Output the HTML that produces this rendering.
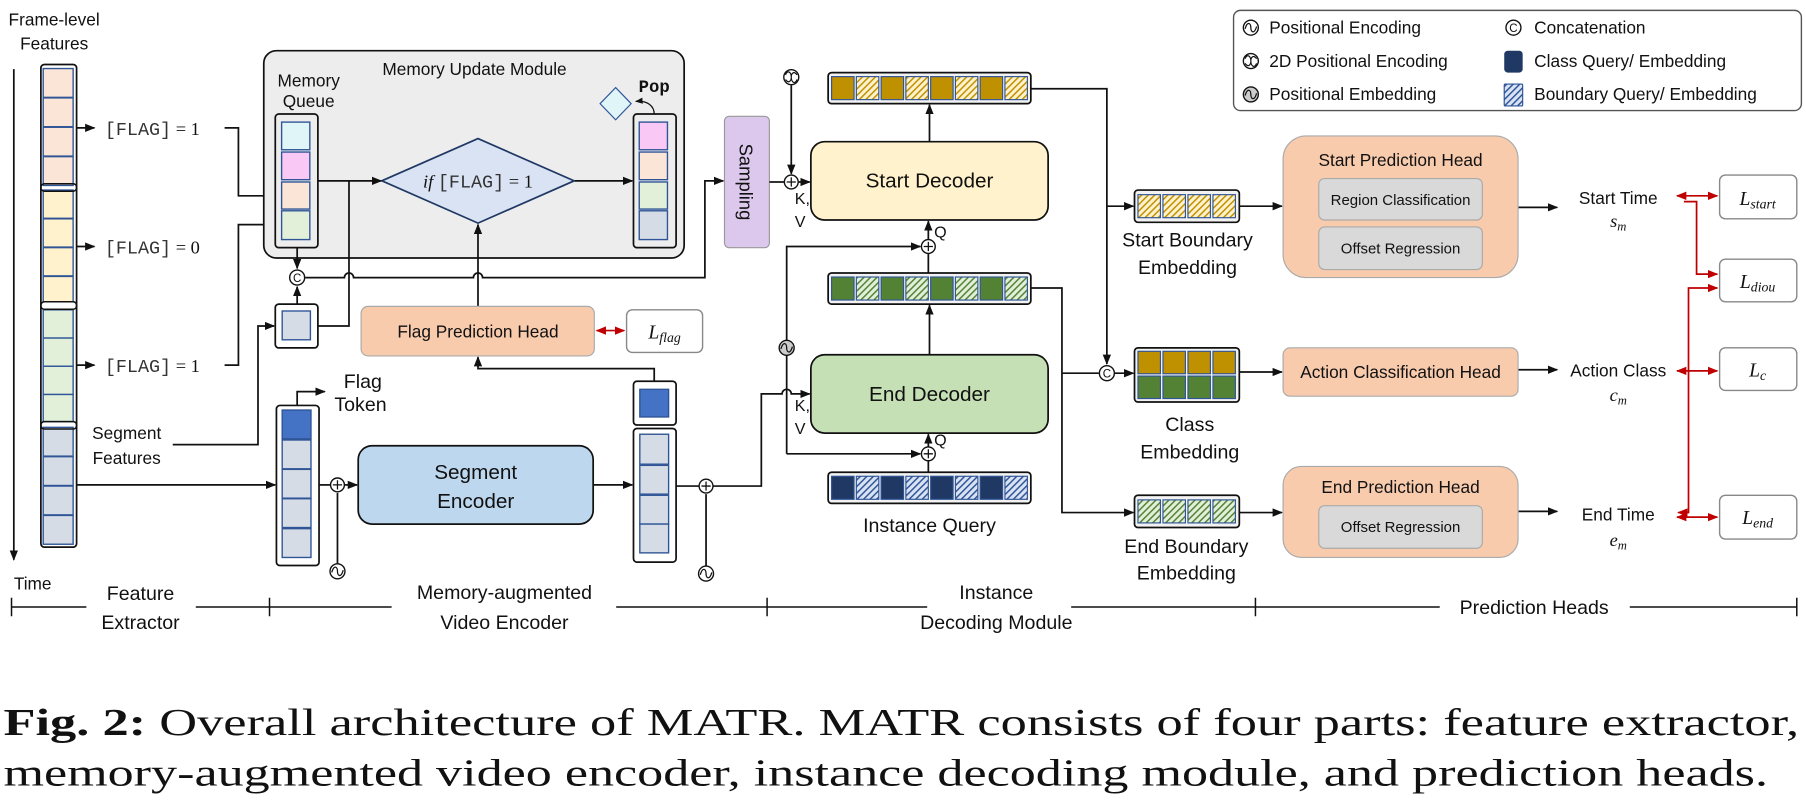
<!DOCTYPE html>
<html><head><meta charset="utf-8"><style>
html,body{margin:0;padding:0;background:#fff;}
svg{display:block;}
text{font-family:"Liberation Sans",sans-serif;fill:#111;}
.m{font-family:"Liberation Mono",monospace;}
.s{font-family:"Liberation Serif",serif;}
</style></head><body>
<svg width="1806" height="808" viewBox="0 0 1568 701.5" xmlns="http://www.w3.org/2000/svg">
<defs>
<marker id="a" viewBox="0 0 10 10" refX="9" refY="5" markerWidth="6" markerHeight="6" orient="auto-start-reverse"><path d="M0 1 L10 5 L0 9 z" fill="#111"/></marker>
<marker id="r" viewBox="0 0 10 10" refX="9" refY="5" markerWidth="6" markerHeight="6" orient="auto-start-reverse"><path d="M0 1 L10 5 L0 9 z" fill="#c00000"/></marker>
<pattern id="hY" width="4" height="4" patternUnits="userSpaceOnUse" patternTransform="rotate(45)"><rect width="4" height="4" fill="#fff2cc"/><rect width="1.3" height="4" fill="#bf9000"/></pattern>
<pattern id="hG" width="4" height="4" patternUnits="userSpaceOnUse" patternTransform="rotate(45)"><rect width="4" height="4" fill="#e2f0d9"/><rect width="1.3" height="4" fill="#548235"/></pattern>
<pattern id="hB" width="4" height="4" patternUnits="userSpaceOnUse" patternTransform="rotate(45)"><rect width="4" height="4" fill="#dae3f3"/><rect width="1.3" height="4" fill="#2f5597"/></pattern>
<g id="pe"><circle r="6.5" fill="#fff" stroke="#111" stroke-width="1.2"/><path d="M-5 1 C-3 -6 0 -4 0 0 C0 4 3 6 5 -1" fill="none" stroke="#111" stroke-width="1.1"/></g>
<g id="pm"><circle r="6.5" fill="#ccc" stroke="#111" stroke-width="1.2"/><path d="M-5 1 C-3 -6 0 -4 0 0 C0 4 3 6 5 -1" fill="none" stroke="#111" stroke-width="1.1"/></g>
<g id="p2"><circle r="6.5" fill="#fff" stroke="#111" stroke-width="1.2"/><path d="M-5 -2 C-3 -7 0 -4 0 0 C0 4 3 7 5 2 M-5 2 C-2 6 0 3 0 0 C0 -3 2 -6 5 -2" fill="none" stroke="#111" stroke-width="1"/></g>
<g id="pl"><circle r="6" fill="#fff" stroke="#111" stroke-width="1.2"/><path d="M-4 0 H4 M0 -4 V4" stroke="#111" stroke-width="1.1"/></g>
<g id="cc"><circle r="6.5" fill="#fff" stroke="#111" stroke-width="1.2"/><text x="0" y="3.8" font-size="10" text-anchor="middle">C</text></g>
</defs>
<g stroke="#111" stroke-width="1.5" fill="none">
<line x1="12" y1="60" x2="12" y2="486" marker-end="url(#a)"/>
</g>
<text x="47" y="22" font-size="15" text-anchor="middle">Frame-level</text>
<text x="47" y="43" font-size="15" text-anchor="middle">Features</text>
<text x="12" y="512" font-size="15">Time</text>
<rect x="35.5" y="56" width="31" height="419" rx="3" fill="#fff" stroke="#111" stroke-width="1.5"/>
<g stroke="#2f5597" stroke-width="1.2">
<rect x="37.5" y="59.5" width="26" height="25" fill="#fbe5d6"/><rect x="37.5" y="85" width="26" height="25" fill="#fbe5d6"/><rect x="37.5" y="110.5" width="26" height="25" fill="#fbe5d6"/><rect x="37.5" y="136" width="26" height="25" fill="#fbe5d6"/>
<rect x="37.5" y="165" width="26" height="24.5" fill="#fff2cc"/><rect x="37.5" y="190" width="26" height="24.5" fill="#fff2cc"/><rect x="37.5" y="215" width="26" height="24.5" fill="#fff2cc"/><rect x="37.5" y="240" width="26" height="22" fill="#fff2cc"/>
<rect x="37.5" y="269" width="26" height="24.5" fill="#e2f0d9"/><rect x="37.5" y="293.5" width="26" height="24.5" fill="#e2f0d9"/><rect x="37.5" y="318" width="26" height="24.5" fill="#e2f0d9"/><rect x="37.5" y="342.5" width="26" height="23.5" fill="#e2f0d9"/>
<rect x="37.5" y="371" width="26" height="25" fill="#d6dce5"/><rect x="37.5" y="396.5" width="26" height="25" fill="#d6dce5"/><rect x="37.5" y="422" width="26" height="25" fill="#d6dce5"/><rect x="37.5" y="447.5" width="26" height="25" fill="#d6dce5"/>
</g>
<g fill="none" stroke="#111" stroke-width="1.3">
<rect x="35.5" y="159.5" width="31" height="6.5" rx="3"/><rect x="35.5" y="262" width="31" height="6.5" rx="3"/><rect x="35.5" y="366" width="31" height="6.5" rx="3"/>
</g>
<g stroke="#111" stroke-width="1.5" fill="none">
<line x1="67" y1="111" x2="82" y2="111" marker-end="url(#a)"/>
<line x1="67" y1="214" x2="82" y2="214" marker-end="url(#a)"/>
<line x1="67" y1="317" x2="82" y2="317" marker-end="url(#a)"/>
<path d="M195 111 H207 V170 H238" marker-end="url(#a)"/>
<path d="M195 317 H207 V195 H238" marker-end="url(#a)"/>
<path d="M150 386 H224 V283 H238" marker-end="url(#a)"/>
<path d="M67 421 H239" marker-end="url(#a)"/>
</g>
<text x="91" y="117" font-size="16"><tspan class="m" fill="#333">[FLAG]</tspan><tspan class="s"> = 1</tspan></text>
<text x="91" y="220" font-size="16"><tspan class="m" fill="#333">[FLAG]</tspan><tspan class="s"> = 0</tspan></text>
<text x="91" y="323" font-size="16"><tspan class="m" fill="#333">[FLAG]</tspan><tspan class="s"> = 1</tspan></text>
<text x="110" y="381" font-size="15" text-anchor="middle">Segment</text>
<text x="110" y="403" font-size="15" text-anchor="middle">Features</text>

<rect x="229" y="44" width="365" height="180" rx="11" fill="#ededed" stroke="#111" stroke-width="1.5"/>
<text x="412" y="65" font-size="15" text-anchor="middle">Memory Update Module</text>
<text x="268" y="75" font-size="15" text-anchor="middle">Memory</text>
<text x="268" y="93" font-size="15" text-anchor="middle">Queue</text>
<rect x="239" y="99" width="37" height="116" rx="3" fill="#ededed" stroke="#111" stroke-width="1.5"/>
<g stroke="#2f5597" stroke-width="1.2">
<rect x="244.5" y="106" width="24.5" height="24" fill="#dff5f8"/><rect x="244.5" y="132" width="24.5" height="24" fill="#f9c8f5"/><rect x="244.5" y="158" width="24.5" height="23.5" fill="#fbe5d6"/><rect x="244.5" y="183" width="24.5" height="25" fill="#e2f0d9"/>
</g>
<rect x="550" y="99" width="37" height="116" rx="3" fill="#ededed" stroke="#111" stroke-width="1.5"/>
<g stroke="#2f5597" stroke-width="1.2">
<rect x="555" y="106" width="24.5" height="24" fill="#f9c8f5"/><rect x="555" y="132" width="24.5" height="24" fill="#fbe5d6"/><rect x="555" y="158" width="24.5" height="23.5" fill="#e2f0d9"/><rect x="555" y="183" width="24.5" height="25" fill="#d6dce5"/>
</g>
<path d="M331.5 157 L415 120.3 L498.5 157 L415 193.7 Z" fill="#dae3f3" stroke="#1f3864" stroke-width="1.5"/>
<text x="415" y="163" font-size="16" text-anchor="middle"><tspan class="s" font-style="italic">if </tspan><tspan class="m" fill="#333">[FLAG]</tspan><tspan class="s"> = 1</tspan></text>
<path d="M534.5 76 L548 90 L534.5 104 L521 90 Z" fill="#dff5f8" stroke="#2f5597" stroke-width="1"/>
<text x="568" y="80" font-size="15" font-weight="bold" class="m" text-anchor="middle">Pop</text>
<g stroke="#111" stroke-width="1.5" fill="none">
<path d="M568 99 C568 92 562 87 552 88" stroke-width="1.1" marker-end="url(#a)"/>
<line x1="276" y1="157" x2="331" y2="157" marker-end="url(#a)"/>
<line x1="499" y1="157" x2="549" y2="157" marker-end="url(#a)"/>
<path d="M276 283 H303 V157"/>
<line x1="258" y1="215" x2="258" y2="233" marker-end="url(#a)"/>
<line x1="258" y1="264" x2="258" y2="249" marker-end="url(#a)"/>
<path d="M265 241 H299 a4 4 0 0 1 8 0 H411 a4 4 0 0 1 8 0 H612 V157 H628" marker-end="url(#a)"/>
<line x1="415" y1="266" x2="415" y2="195" marker-end="url(#a)"/>
<path d="M568 331 V320 H415 V310" marker-end="url(#a)"/>
<path d="M258 352 V340 H282" marker-end="url(#a)"/>
<path d="M277 421 H287"/><path d="M299 421 H310" marker-end="url(#a)"/>
<line x1="293" y1="490" x2="293" y2="428"/>
<line x1="515" y1="421" x2="549" y2="421" marker-end="url(#a)"/>
<path d="M587 422 H607"/>
<line x1="613" y1="491" x2="613" y2="429"/>
<path d="M619 422 H661 V342 H679 a4 4 0 0 1 8 0 H703" marker-end="url(#a)"/>
</g>
<use href="#cc" x="258" y="241"/>
<rect x="239" y="264" width="37" height="38" rx="3" fill="#fff" stroke="#111" stroke-width="1.5"/>
<rect x="245" y="270" width="24.5" height="25" fill="#d6dce5" stroke="#2f5597" stroke-width="1.2"/>
<rect x="313.5" y="266" width="202.5" height="43" rx="6" fill="#f8cbad" stroke="#aaa" stroke-width="1"/>
<text x="415" y="293" font-size="15" text-anchor="middle">Flag Prediction Head</text>
<line x1="518" y1="287" x2="542" y2="287" stroke="#c00000" stroke-width="1.5" marker-start="url(#r)" marker-end="url(#r)"/>
<rect x="544" y="269" width="66" height="37" rx="5" fill="#fff" stroke="#888" stroke-width="1.2"/>
<text x="577" y="294" font-size="17" class="s" font-style="italic" text-anchor="middle">L<tspan font-size="12" dy="3">flag</tspan></text>
<text x="315" y="337" font-size="17" text-anchor="middle">Flag</text>
<text x="313" y="357" font-size="17" text-anchor="middle">Token</text>
<rect x="240" y="352" width="37" height="139" rx="3" fill="#fff" stroke="#111" stroke-width="1.5"/>
<g stroke="#2f5597" stroke-width="1.2">
<rect x="245" y="356" width="25" height="25" fill="#4472c4"/><rect x="245" y="382" width="25" height="25" fill="#d6dce5"/><rect x="245" y="407.5" width="25" height="25" fill="#d6dce5"/><rect x="245" y="433" width="25" height="25" fill="#d6dce5"/><rect x="245" y="459" width="25" height="25" fill="#d6dce5"/>
</g>
<use href="#pl" x="293" y="421"/>
<use href="#pe" x="293" y="496"/>
<rect x="311" y="387" width="204" height="68" rx="12" fill="#bdd7ee" stroke="#111" stroke-width="1.5"/>
<text x="413" y="416" font-size="18" text-anchor="middle">Segment</text>
<text x="413" y="441" font-size="18" text-anchor="middle">Encoder</text>
<rect x="550" y="331" width="37" height="38" rx="3" fill="#fff" stroke="#111" stroke-width="1.5"/>
<rect x="555.5" y="338" width="25" height="24" fill="#4472c4" stroke="#2f5597" stroke-width="1.2"/>
<rect x="550" y="372" width="37" height="116" rx="3" fill="#fff" stroke="#111" stroke-width="1.5"/>
<g stroke="#2f5597" stroke-width="1.2">
<rect x="555.5" y="377" width="25" height="26" fill="#d6dce5"/><rect x="555.5" y="404" width="25" height="25" fill="#d6dce5"/><rect x="555.5" y="430" width="25" height="25" fill="#d6dce5"/><rect x="555.5" y="455" width="25" height="25" fill="#d6dce5"/>
</g>
<use href="#pl" x="613" y="422"/>
<use href="#pe" x="613" y="498"/>

<rect x="629" y="101" width="39" height="114" rx="4" fill="#dcc8ec" stroke="#999" stroke-width="1"/>
<text transform="translate(642 158) rotate(90)" font-size="16" text-anchor="middle">Sampling</text>

<g stroke="#111" stroke-width="1.5" fill="none">
<line x1="668" y1="158" x2="681" y2="158"/>
<line x1="687" y1="74" x2="687" y2="151" marker-end="url(#a)"/>
<line x1="693" y1="158" x2="703" y2="158" marker-end="url(#a)"/>
<line x1="807" y1="123" x2="807" y2="91" marker-end="url(#a)"/>
<path d="M895 77 H961 V316" marker-end="url(#a)"/>
<path d="M961 179 H984" marker-end="url(#a)"/>
<line x1="806" y1="208" x2="806" y2="192" marker-end="url(#a)"/>
<line x1="806" y1="237" x2="806" y2="220"/>
<path d="M683 394 V214 H799" marker-end="url(#a)"/>
<path d="M683 394 H799" marker-end="url(#a)"/>
<line x1="807" y1="308" x2="807" y2="265" marker-end="url(#a)"/>
<path d="M895 250 H922 V445 H984" marker-end="url(#a)"/>
<path d="M922 324 H954"/>
<path d="M968 324 H984" marker-end="url(#a)"/>
<line x1="806" y1="388" x2="806" y2="377" marker-end="url(#a)"/>
<line x1="806" y1="410" x2="806" y2="400"/>
<line x1="1076" y1="179" x2="1113" y2="179" marker-end="url(#a)"/>
<line x1="1076" y1="323" x2="1113" y2="323" marker-end="url(#a)"/>
<line x1="1076" y1="445" x2="1113" y2="445" marker-end="url(#a)"/>
<line x1="1318" y1="180" x2="1352" y2="180" marker-end="url(#a)"/>
<line x1="1318" y1="321" x2="1352" y2="321" marker-end="url(#a)"/>
<line x1="1318" y1="444" x2="1352" y2="444" marker-end="url(#a)"/>
</g>
<use href="#p2" x="687" y="67"/>
<use href="#pl" x="687" y="158"/>
<text x="690" y="177" font-size="14">K,</text><text x="690" y="197" font-size="14">V</text>
<text x="690" y="357" font-size="14">K,</text><text x="690" y="377" font-size="14">V</text>
<rect x="704" y="123" width="206" height="68" rx="12" fill="#fff2cc" stroke="#111" stroke-width="1.5"/>
<text x="807" y="163" font-size="18" text-anchor="middle">Start Decoder</text>
<rect x="704" y="308" width="206" height="68" rx="12" fill="#c5e0b4" stroke="#111" stroke-width="1.5"/>
<text x="807" y="348" font-size="18" text-anchor="middle">End Decoder</text>
<use href="#pl" x="806" y="214"/><text x="811" y="206" font-size="14">Q</text>
<use href="#pl" x="806" y="394"/><text x="811" y="387" font-size="14">Q</text>
<use href="#pm" x="683" y="302"/>
<use href="#cc" x="961" y="324"/>
<g stroke="#2f5597" stroke-width="1">
<rect x="719" y="63" width="176" height="27" rx="3" fill="#f2f2f2" stroke="#111" stroke-width="1.5"/>
<rect x="722" y="66.5" width="19.5" height="20" fill="#bf9000"/><rect x="743.5" y="66.5" width="19.5" height="20" fill="url(#hY)"/><rect x="765" y="66.5" width="19.5" height="20" fill="#bf9000"/><rect x="786.5" y="66.5" width="19.5" height="20" fill="url(#hY)"/><rect x="808" y="66.5" width="19.5" height="20" fill="#bf9000"/><rect x="829.5" y="66.5" width="19.5" height="20" fill="url(#hY)"/><rect x="851" y="66.5" width="19.5" height="20" fill="#bf9000"/><rect x="872.5" y="66.5" width="19.5" height="20" fill="url(#hY)"/>
<rect x="719" y="237" width="176" height="27" rx="3" fill="#f2f2f2" stroke="#111" stroke-width="1.5"/>
<rect x="722" y="240.5" width="19.5" height="20" fill="#548235"/><rect x="743.5" y="240.5" width="19.5" height="20" fill="url(#hG)"/><rect x="765" y="240.5" width="19.5" height="20" fill="#548235"/><rect x="786.5" y="240.5" width="19.5" height="20" fill="url(#hG)"/><rect x="808" y="240.5" width="19.5" height="20" fill="#548235"/><rect x="829.5" y="240.5" width="19.5" height="20" fill="url(#hG)"/><rect x="851" y="240.5" width="19.5" height="20" fill="#548235"/><rect x="872.5" y="240.5" width="19.5" height="20" fill="url(#hG)"/>
<rect x="719" y="410" width="176" height="27" rx="3" fill="#f2f2f2" stroke="#111" stroke-width="1.5"/>
<rect x="722" y="413.5" width="19.5" height="20" fill="#203864"/><rect x="743.5" y="413.5" width="19.5" height="20" fill="url(#hB)"/><rect x="765" y="413.5" width="19.5" height="20" fill="#203864"/><rect x="786.5" y="413.5" width="19.5" height="20" fill="url(#hB)"/><rect x="808" y="413.5" width="19.5" height="20" fill="#203864"/><rect x="829.5" y="413.5" width="19.5" height="20" fill="url(#hB)"/><rect x="851" y="413.5" width="19.5" height="20" fill="#203864"/><rect x="872.5" y="413.5" width="19.5" height="20" fill="url(#hB)"/>
<rect x="985" y="165" width="91" height="28" rx="3" fill="#f2f2f2" stroke="#111" stroke-width="1.5"/>
<rect x="988" y="169" width="19.5" height="20" fill="url(#hY)"/><rect x="1009.7" y="169" width="19.5" height="20" fill="url(#hY)"/><rect x="1031.4" y="169" width="19.5" height="20" fill="url(#hY)"/><rect x="1053.1" y="169" width="19.5" height="20" fill="url(#hY)"/>
<rect x="985" y="302" width="91" height="47" rx="3" fill="#f2f2f2" stroke="#111" stroke-width="1.5"/>
<rect x="988" y="305" width="19.5" height="19.5" fill="#bf9000"/><rect x="1009.7" y="305" width="19.5" height="19.5" fill="#bf9000"/><rect x="1031.4" y="305" width="19.5" height="19.5" fill="#bf9000"/><rect x="1053.1" y="305" width="19.5" height="19.5" fill="#bf9000"/>
<rect x="988" y="326.5" width="19.5" height="19.5" fill="#548235"/><rect x="1009.7" y="326.5" width="19.5" height="19.5" fill="#548235"/><rect x="1031.4" y="326.5" width="19.5" height="19.5" fill="#548235"/><rect x="1053.1" y="326.5" width="19.5" height="19.5" fill="#548235"/>
<rect x="985" y="430" width="91" height="28" rx="3" fill="#f2f2f2" stroke="#111" stroke-width="1.5"/>
<rect x="988" y="434" width="19.5" height="20" fill="url(#hG)"/><rect x="1009.7" y="434" width="19.5" height="20" fill="url(#hG)"/><rect x="1031.4" y="434" width="19.5" height="20" fill="url(#hG)"/><rect x="1053.1" y="434" width="19.5" height="20" fill="url(#hG)"/>
</g>
<text x="807" y="462" font-size="17" text-anchor="middle">Instance Query</text>
<text x="1031" y="214" font-size="17" text-anchor="middle">Start Boundary</text>
<text x="1031" y="238" font-size="17" text-anchor="middle">Embedding</text>
<text x="1033" y="374" font-size="17" text-anchor="middle">Class</text>
<text x="1033" y="398" font-size="17" text-anchor="middle">Embedding</text>
<text x="1030" y="480" font-size="17" text-anchor="middle">End Boundary</text>
<text x="1030" y="503" font-size="17" text-anchor="middle">Embedding</text>

<rect x="1114" y="118" width="204" height="123" rx="20" fill="#f8cbad" stroke="#aaa" stroke-width="1"/>
<text x="1216" y="144" font-size="15" text-anchor="middle">Start Prediction Head</text>
<rect x="1145" y="155" width="142" height="36" rx="5" fill="#d9d9d9" stroke="#aaa"/>
<text x="1216" y="178" font-size="13" text-anchor="middle">Region Classification</text>
<rect x="1145" y="197" width="142" height="37" rx="5" fill="#d9d9d9" stroke="#aaa"/>
<text x="1216" y="220" font-size="13" text-anchor="middle">Offset Regression</text>
<rect x="1114" y="302" width="204" height="42" rx="6" fill="#f8cbad" stroke="#aaa" stroke-width="1"/>
<text x="1216" y="328" font-size="15" text-anchor="middle">Action Classification Head</text>
<rect x="1114" y="405" width="204" height="79" rx="16" fill="#f8cbad" stroke="#aaa" stroke-width="1"/>
<text x="1216" y="428" font-size="15" text-anchor="middle">End Prediction Head</text>
<rect x="1145" y="439" width="142" height="37" rx="5" fill="#d9d9d9" stroke="#aaa"/>
<text x="1216" y="462" font-size="13" text-anchor="middle">Offset Regression</text>
<text x="1405" y="177" font-size="15" text-anchor="middle">Start Time</text>
<text x="1405" y="197" font-size="16" class="s" font-style="italic" text-anchor="middle">s<tspan font-size="11" dy="3">m</tspan></text>
<text x="1405" y="327" font-size="15" text-anchor="middle">Action Class</text>
<text x="1405" y="348" font-size="16" class="s" font-style="italic" text-anchor="middle">c<tspan font-size="11" dy="3">m</tspan></text>
<text x="1405" y="452" font-size="15" text-anchor="middle">End Time</text>
<text x="1405" y="474" font-size="16" class="s" font-style="italic" text-anchor="middle">e<tspan font-size="11" dy="3">m</tspan></text>
<g stroke="#c00000" stroke-width="1.5" fill="none">
<line x1="1456" y1="170" x2="1491" y2="170" marker-start="url(#r)" marker-end="url(#r)"/>
<path d="M1462 175 H1473 V238 H1491" marker-end="url(#r)"/>
<path d="M1457 445 H1466 V250 H1491" marker-start="url(#r)" marker-end="url(#r)"/>
<line x1="1456" y1="322" x2="1491" y2="322" marker-start="url(#r)" marker-end="url(#r)"/>
<line x1="1456" y1="449" x2="1491" y2="449" marker-start="url(#r)" marker-end="url(#r)"/>
</g>
<g fill="#fff" stroke="#888" stroke-width="1.2">
<rect x="1493" y="152" width="67" height="38" rx="5"/><rect x="1493" y="225" width="67" height="37" rx="5"/><rect x="1493" y="302" width="67" height="37" rx="5"/><rect x="1493" y="430" width="67" height="38" rx="5"/>
</g>
<g class="s" font-style="italic" font-size="17" text-anchor="middle">
<text x="1526" y="178" class="s">L<tspan font-size="12" dy="3">start</tspan></text>
<text x="1526" y="250" class="s">L<tspan font-size="12" dy="3">diou</tspan></text>
<text x="1526" y="327" class="s">L<tspan font-size="12" dy="3">c</tspan></text>
<text x="1526" y="455" class="s">L<tspan font-size="12" dy="3">end</tspan></text>
</g>

<rect x="1071" y="9" width="493" height="87" rx="6" fill="#fff" stroke="#555" stroke-width="1.2"/>
<use href="#pe" x="1086" y="24"/><text x="1102" y="29" font-size="15">Positional Encoding</text>
<use href="#p2" x="1086" y="53"/><text x="1102" y="58" font-size="15">2D Positional Encoding</text>
<use href="#pm" x="1086" y="82"/><text x="1102" y="87" font-size="15">Positional Embedding</text>
<use href="#cc" x="1314" y="24"/><text x="1332" y="29" font-size="15">Concatenation</text>
<rect x="1306" y="44" width="16" height="19" rx="3" fill="#203864"/><text x="1332" y="58" font-size="15">Class Query/ Embedding</text>
<rect x="1306" y="73" width="16" height="19" rx="1" fill="url(#hB)" stroke="#2f5597"/><text x="1332" y="87" font-size="15">Boundary Query/ Embedding</text>

<g stroke="#111" stroke-width="1.3">
<path d="M10 527 H75 M170 527 H340 M535 527 H805 M930 527 H1250 M1415 527 H1560"/>
<path d="M10 519 V535 M234 519 V535 M666 519 V535 M1090 519 V535 M1560 519 V535"/>
</g>
<text x="122" y="521" font-size="17" text-anchor="middle">Feature</text>
<text x="122" y="546" font-size="17" text-anchor="middle">Extractor</text>
<text x="438" y="520" font-size="17" text-anchor="middle">Memory-augmented</text>
<text x="438" y="546" font-size="17" text-anchor="middle">Video Encoder</text>
<text x="865" y="520" font-size="17" text-anchor="middle">Instance</text>
<text x="865" y="546" font-size="17" text-anchor="middle">Decoding Module</text>
<text x="1332" y="533" font-size="17" text-anchor="middle">Prediction Heads</text>

<text x="3" y="638" font-size="33" class="s" textLength="1559" lengthAdjust="spacingAndGlyphs"><tspan font-weight="bold" class="s">Fig. 2:</tspan> Overall architecture of MATR. MATR consists of four parts: feature extractor,</text>
<text x="3" y="682" font-size="33" class="s" textLength="1532" lengthAdjust="spacingAndGlyphs">memory-augmented video encoder, instance decoding module, and prediction heads.</text>
</svg>
</body></html>
